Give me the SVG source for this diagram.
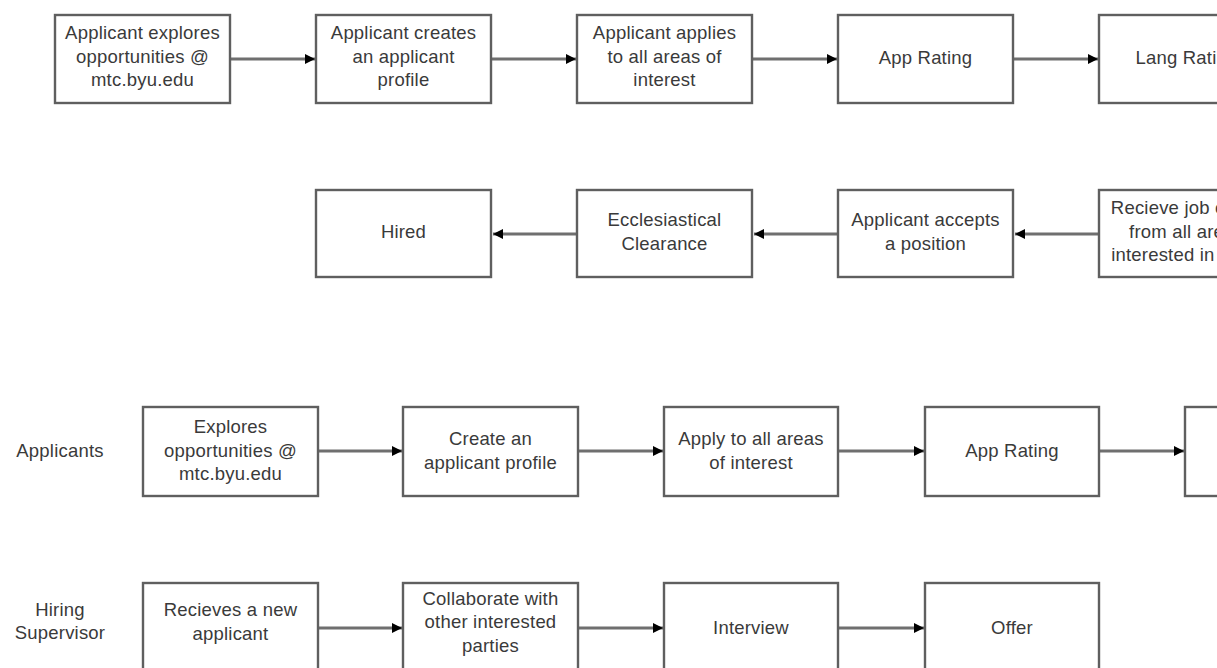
<svg xmlns="http://www.w3.org/2000/svg" width="1217" height="668" viewBox="0 0 1217 668">
<style>
.box{fill:#fff;stroke:#5f5f5f;stroke-width:2.4}
.t{font-family:"Liberation Sans",Arial,sans-serif;font-size:18.5px;letter-spacing:0.2px;fill:#3a3a3a;text-anchor:middle}
.c{stroke:#6f6f6f;stroke-width:3;fill:none;marker-end:url(#ah)}
</style>
<defs>
<marker id="ah" viewBox="0 0 10 10" refX="10" refY="5" markerWidth="15" markerHeight="10" markerUnits="userSpaceOnUse" orient="auto">
<path d="M0,0 L10,5 L0,10 z" fill="#000"/>
</marker>
</defs>
<rect width="1217" height="668" fill="#fff"/>
<g id="connectors">
<line class="c" x1="231" y1="59" x2="315" y2="59"/>
<line class="c" x1="492" y1="59" x2="576" y2="59"/>
<line class="c" x1="753" y1="59" x2="837" y2="59"/>
<line class="c" x1="1014" y1="59" x2="1098" y2="59"/>
<line class="c" x1="1098" y1="234" x2="1015" y2="234"/>
<line class="c" x1="837" y1="234" x2="754" y2="234"/>
<line class="c" x1="576" y1="234" x2="493" y2="234"/>
<line class="c" x1="319" y1="451" x2="402" y2="451"/>
<line class="c" x1="579" y1="451" x2="663" y2="451"/>
<line class="c" x1="839" y1="451" x2="924" y2="451"/>
<line class="c" x1="1100" y1="451" x2="1184" y2="451"/>
<line class="c" x1="319" y1="628" x2="402" y2="628"/>
<line class="c" x1="579" y1="628" x2="663" y2="628"/>
<line class="c" x1="839" y1="628" x2="924" y2="628"/>
</g>
<g id="n1"><rect class="box" x="55" y="15" width="175" height="88"/><text class="t" x="142.5" y="39">Applicant explores</text><text class="t" x="142.5" y="63">opportunities @</text><text class="t" x="142.5" y="86">mtc.byu.edu</text></g>
<g id="n2"><rect class="box" x="316" y="15" width="175" height="88"/><text class="t" x="403.5" y="39">Applicant creates</text><text class="t" x="403.5" y="63">an applicant</text><text class="t" x="403.5" y="86">profile</text></g>
<g id="n3"><rect class="box" x="577" y="15" width="175" height="88"/><text class="t" x="664.5" y="39">Applicant applies</text><text class="t" x="664.5" y="63">to all areas of</text><text class="t" x="664.5" y="86">interest</text></g>
<g id="n4"><rect class="box" x="838" y="15" width="175" height="88"/><text class="t" x="925.5" y="64">App Rating</text></g>
<g id="n5"><rect class="box" x="1099" y="15" width="175" height="88"/><text class="t" x="1186.5" y="64">Lang Rating</text></g>
<g id="n6"><rect class="box" x="1099" y="190" width="175" height="87"/><text class="t" x="1186.5" y="214">Recieve job offers</text><text class="t" x="1186.5" y="238">from all areas</text><text class="t" x="1186.5" y="261">interested in them</text></g>
<g id="n7"><rect class="box" x="838" y="190" width="175" height="87"/><text class="t" x="925.5" y="226">Applicant accepts</text><text class="t" x="925.5" y="250">a position</text></g>
<g id="n8"><rect class="box" x="577" y="190" width="175" height="87"/><text class="t" x="664.5" y="226">Ecclesiastical</text><text class="t" x="664.5" y="250">Clearance</text></g>
<g id="n9"><rect class="box" x="316" y="190" width="175" height="87"/><text class="t" x="403.5" y="238">Hired</text></g>
<g id="lane1"><text class="t" x="60" y="457">Applicants</text></g>
<g id="n10"><rect class="box" x="143" y="407" width="175" height="89"/><text class="t" x="230.5" y="433">Explores</text><text class="t" x="230.5" y="457">opportunities @</text><text class="t" x="230.5" y="480">mtc.byu.edu</text></g>
<g id="n11"><rect class="box" x="403" y="407" width="175" height="89"/><text class="t" x="490.5" y="445">Create an</text><text class="t" x="490.5" y="469">applicant profile</text></g>
<g id="n12"><rect class="box" x="664" y="407" width="174" height="89"/><text class="t" x="751" y="445">Apply to all areas</text><text class="t" x="751" y="469">of interest</text></g>
<g id="n13"><rect class="box" x="925" y="407" width="174" height="89"/><text class="t" x="1012" y="457">App Rating</text></g>
<g id="n14"><rect class="box" x="1185" y="407" width="175" height="89"/></g>
<g id="lane2"><text class="t" x="60" y="616">Hiring</text><text class="t" x="60" y="639">Supervisor</text></g>
<g id="n15"><rect class="box" x="143" y="583" width="175" height="89"/><text class="t" x="230.5" y="616">Recieves a new</text><text class="t" x="230.5" y="640">applicant</text></g>
<g id="n16"><rect class="box" x="403" y="583" width="175" height="89"/><text class="t" x="490.5" y="605">Collaborate with</text><text class="t" x="490.5" y="628">other interested</text><text class="t" x="490.5" y="652">parties</text></g>
<g id="n17"><rect class="box" x="664" y="583" width="174" height="89"/><text class="t" x="751" y="634">Interview</text></g>
<g id="n18"><rect class="box" x="925" y="583" width="174" height="89"/><text class="t" x="1012" y="634">Offer</text></g>
</svg>
